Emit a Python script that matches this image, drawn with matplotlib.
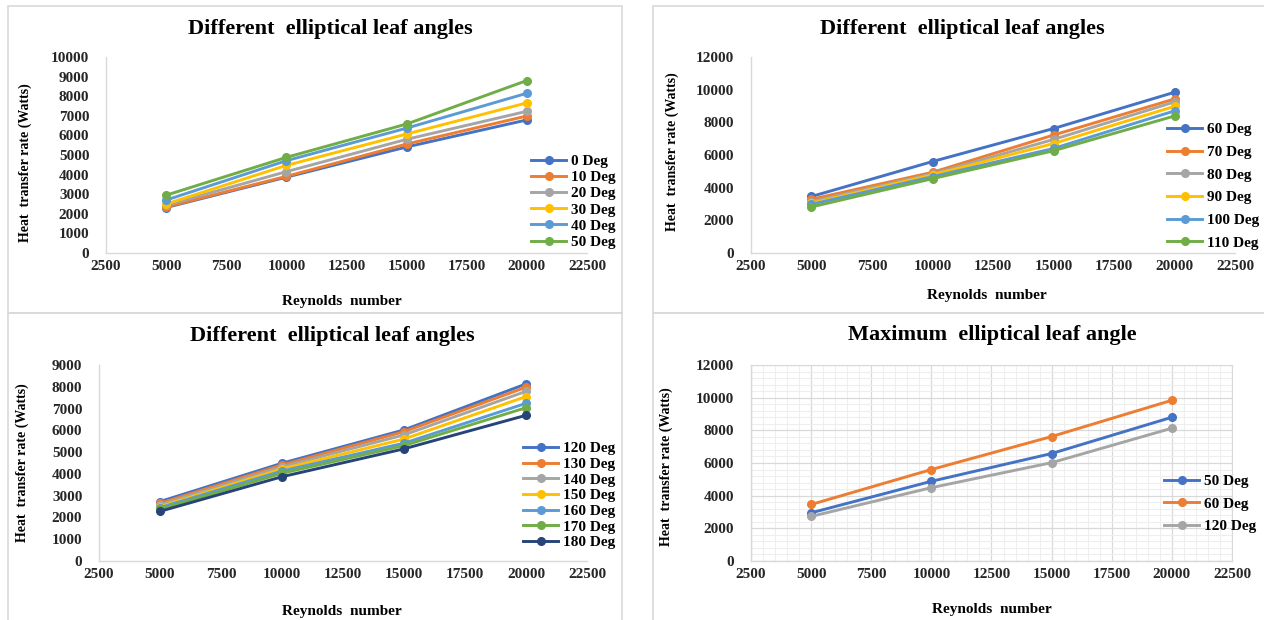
import numpy as np
import matplotlib
matplotlib.use('Agg')
import matplotlib.pyplot as plt
from matplotlib.patches import Rectangle
from matplotlib.ticker import MultipleLocator

plt.rcParams['font.family'] = ['Liberation Serif', 'DejaVu Serif']
plt.rcParams['font.weight'] = 'bold'

# data
reynolds = [5000, 10000, 15000, 20000]

labels_a = ['0 Deg', '10 Deg', '20 Deg', '30 Deg', '40 Deg', '50 Deg']
deg_0 = [2320, 3870, 5410, 6790]
deg_10 = [2350, 3910, 5560, 6990]
deg_20 = [2440, 4150, 5800, 7230]
deg_30 = [2500, 4470, 6070, 7660]
deg_40 = [2700, 4710, 6370, 8150]
deg_50 = [2950, 4880, 6580, 8800]

labels_b = ['60 Deg', '70 Deg', '80 Deg', '90 Deg', '100 Deg', '110 Deg']
deg_60 = [3460, 5600, 7620, 9840]
deg_70 = [3290, 4940, 7220, 9430]
deg_80 = [3150, 4850, 6950, 9250]
deg_90 = [3050, 4780, 6700, 8980]
deg_100 = [2980, 4670, 6400, 8700]
deg_110 = [2820, 4550, 6260, 8390]

labels_c = ['120 Deg', '130 Deg', '140 Deg', '150 Deg', '160 Deg', '170 Deg', '180 Deg']
deg_120 = [2730, 4490, 6020, 8130]
deg_130 = [2650, 4410, 5940, 7980]
deg_140 = [2580, 4330, 5790, 7790]
deg_150 = [2500, 4230, 5600, 7550]
deg_160 = [2450, 4130, 5410, 7240]
deg_170 = [2380, 4030, 5300, 7040]
deg_180 = [2280, 3870, 5150, 6690]

labels_d = ['50 Deg', '60 Deg', '120 Deg']

colors = ['#4472C4', '#ED7D31', '#A5A5A5', '#FFC000', '#5B9BD5', '#70AD47', '#264478']

W, H = 1264, 620
fig = plt.figure(figsize=(W / 100, H / 100), dpi=100)

# panel frames (light grey Excel chart borders)
for (x0, y0, x1, y1) in [(8, 6, 622, 313), (653, 6, 1270, 313),
                         (8, 313, 622, 630), (653, 313, 1270, 630)]:
    fig.patches.append(Rectangle((x0 / W, 1 - y1 / H), (x1 - x0) / W, (y1 - y0) / H,
                                 transform=fig.transFigure, fill=False,
                                 edgecolor='#d9d9d9', lw=1.2))


def px_axes(x0, x1, ytop, ybot):
    return fig.add_axes([x0 / W, 1 - ybot / H, (x1 - x0) / W, (ybot - ytop) / H])


def panel(box, series, labels, cols, ymax, ystep, title, title_xy, xl_xy, yl_xy,
          leg_xy, spacing, grid=False):
    ax = px_axes(*box)
    for vals, lab, c in zip(series, labels, cols):
        ax.plot(reynolds, vals, color=c, lw=2.1, marker='o', ms=5.5, label=lab)
    ax.set_xlim(2500, 22500)
    ax.set_ylim(0, ymax)
    ax.set_xticks(np.arange(2500, 22501, 2500))
    ax.set_yticks(np.arange(0, ymax + 1, ystep))
    ax.tick_params(length=0, labelsize=11, colors='#262626')
    ax.tick_params(axis='x', pad=5)
    ax.tick_params(axis='y', pad=12)
    for lbl in ax.get_xticklabels() + ax.get_yticklabels():
        lbl.set_fontweight('bold')
    for s in ['top', 'right']:
        ax.spines[s].set_visible(False)
    for s in ['left', 'bottom']:
        ax.spines[s].set_color('#d9d9d9')
        ax.spines[s].set_linewidth(1)
    if grid:
        ax.xaxis.set_minor_locator(MultipleLocator(500))
        ax.yaxis.set_minor_locator(MultipleLocator(ystep / 5))
        ax.tick_params(which='minor', length=0)
        ax.grid(which='major', color='#d9d9d9', lw=0.9)
        ax.grid(which='minor', color='#eeeeee', lw=0.8)
        ax.set_axisbelow(True)
        for s in ['top', 'right']:
            ax.spines[s].set_visible(True)
            ax.spines[s].set_color('#d9d9d9')
    fig.text(title_xy[0] / W, 1 - title_xy[1] / H, title, ha='center', va='center',
             fontsize=16, fontweight='bold')
    fig.text(xl_xy[0] / W, 1 - xl_xy[1] / H, 'Reynolds  number', ha='center',
             va='center', fontsize=11, fontweight='bold')
    fig.text(yl_xy[0] / W, 1 - yl_xy[1] / H, 'Heat  transfer rate (Watts)', ha='center',
             va='center', rotation=90, fontsize=10, fontweight='bold')
    leg = ax.legend(loc='upper left', bbox_to_anchor=(leg_xy[0] / W, 1 - leg_xy[1] / H),
                    bbox_transform=fig.transFigure, frameon=False, fontsize=11,
                    handlelength=2.3, handletextpad=0.3, labelspacing=spacing,
                    borderpad=0, borderaxespad=0)
    for t in leg.get_texts():
        t.set_fontweight('bold')
    return ax


panel((106, 587, 57, 253), [deg_0, deg_10, deg_20, deg_30, deg_40, deg_50], labels_a,
      colors[:6], 10000, 1000, 'Different  elliptical leaf angles',
      (330, 29), (342, 301), (25, 163), (531, 154.5), 0.16)

panel((751, 1235, 57, 253), [deg_60, deg_70, deg_80, deg_90, deg_100, deg_110], labels_b,
      colors[:6], 12000, 2000, 'Different  elliptical leaf angles',
      (962, 29), (987, 296), (672, 152), (1167, 122.5), 0.59)

panel((99, 587, 365, 561), [deg_120, deg_130, deg_140, deg_150, deg_160, deg_170, deg_180],
      labels_c, colors[:7], 9000, 1000, 'Different  elliptical leaf angles',
      (332, 336), (342, 612), (22, 463), (523, 441.5), 0.13)

panel((751, 1232, 365, 561), [deg_50, deg_60, deg_120], labels_d,
      colors[:3], 12000, 2000, 'Maximum  elliptical leaf angle',
      (992, 335), (992, 609), (666, 467), (1164, 474.5), 0.57, grid=True)

fig.savefig('out.png', dpi=100, facecolor='white')
